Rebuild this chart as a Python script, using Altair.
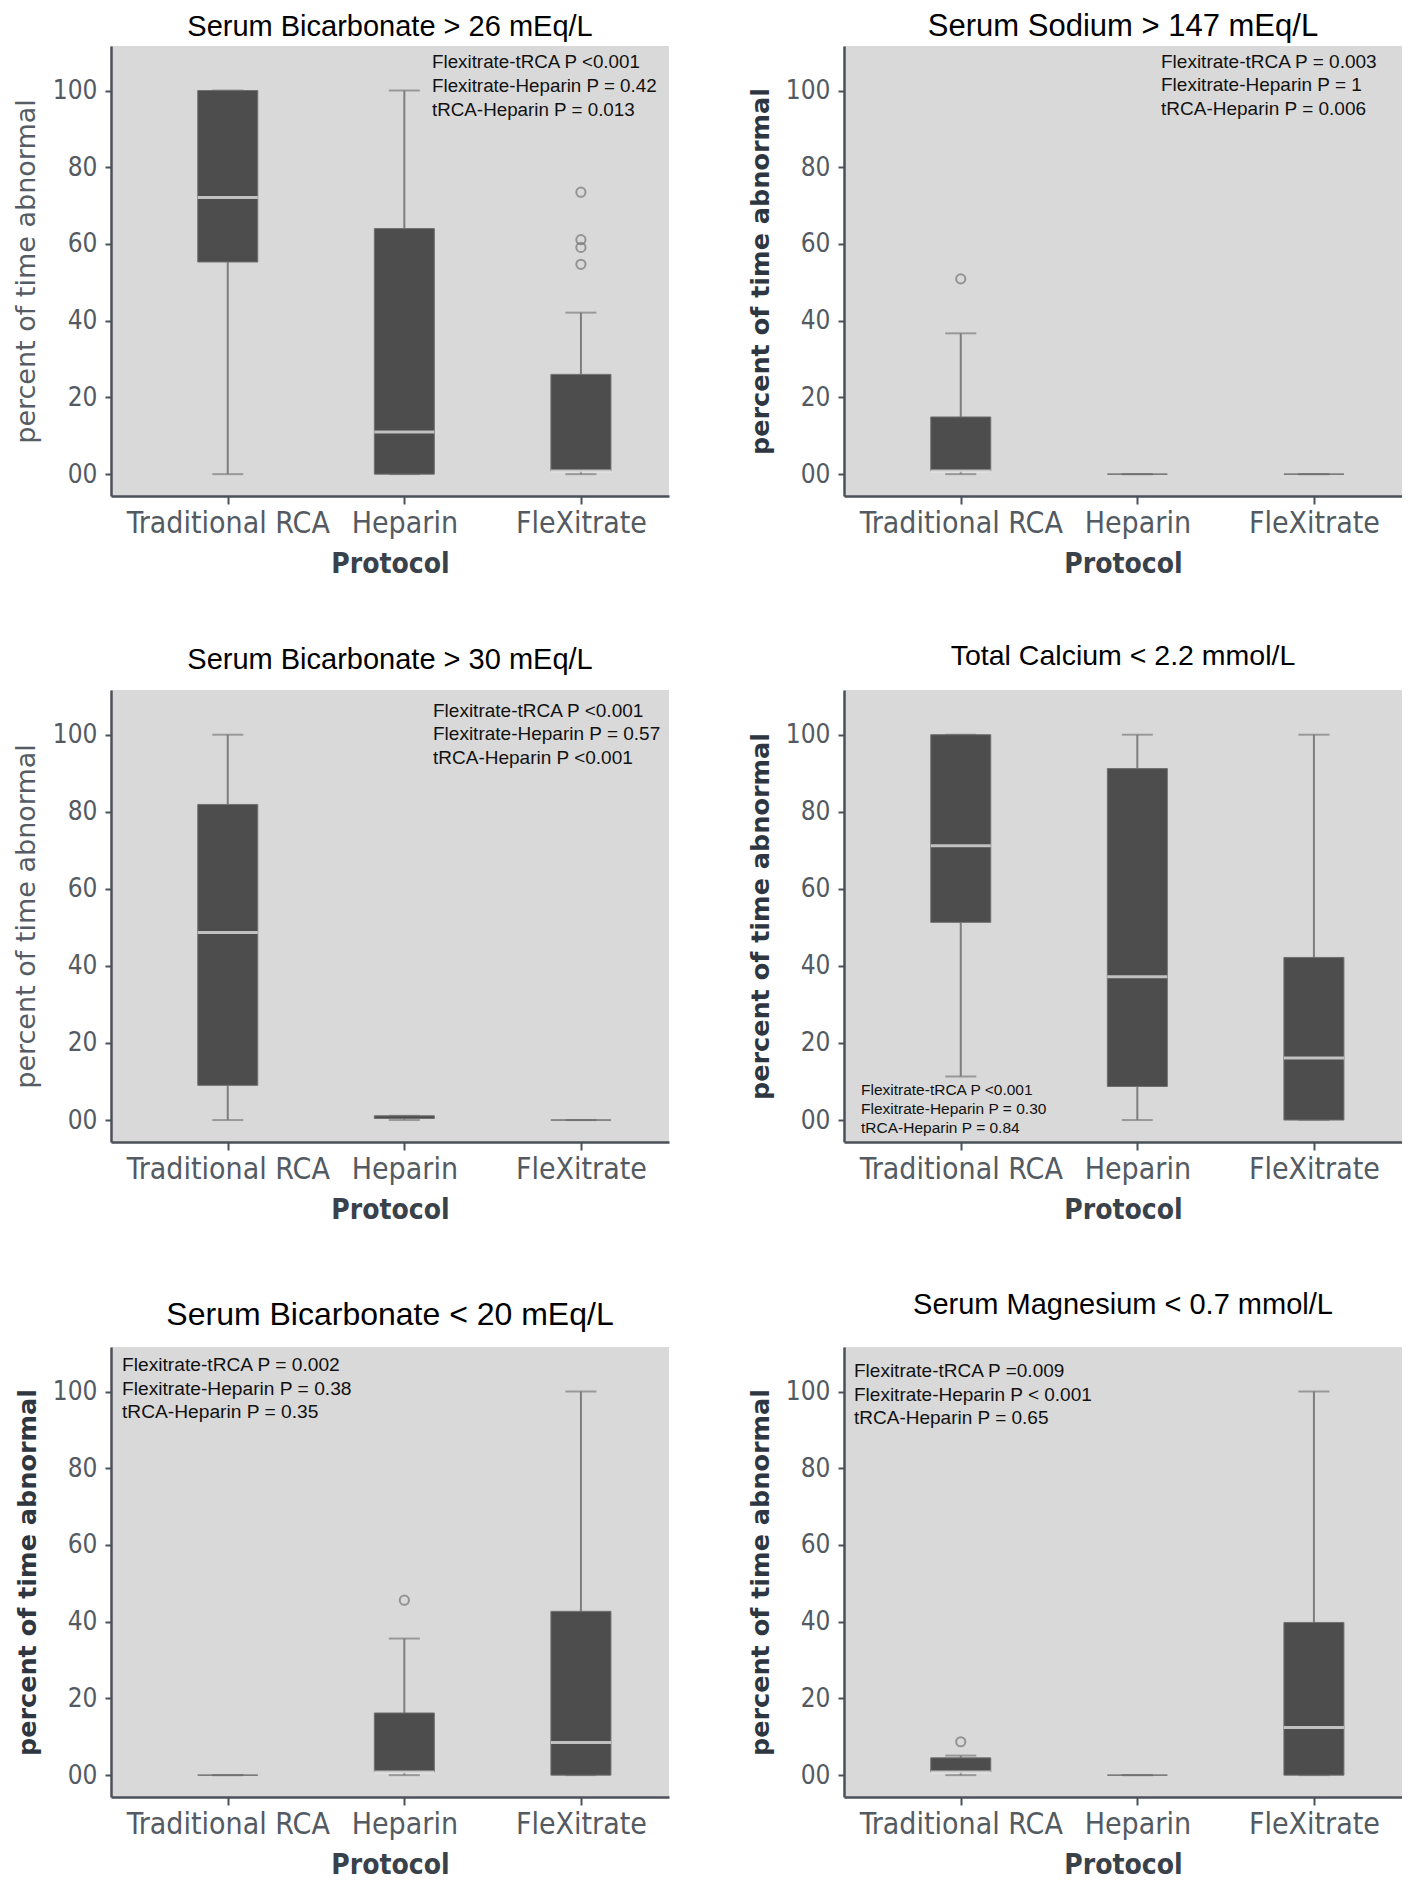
import altair as alt
import pandas as pd

categories = ["Traditional RCA", "Heparin", "FleXitrate"]

titles = [
    "Serum Bicarbonate > 26 mEq/L",
    "Serum Sodium > 147 mEq/L",
    "Serum Bicarbonate > 30 mEq/L",
    "Total Calcium < 2.2 mmol/L",
    "Serum Bicarbonate < 20 mEq/L",
    "Serum Magnesium < 0.7 mmol/L",
]

# box statistics per panel, in order of categories
lower = [[0, 0, 0], [0, 0, 0], [0, 0, 0], [11.3, 0, 0], [0, 0, 0], [0, 0, 0]]
q1 = [[55.3, 0, 0.8], [0.8, 0, 0], [9.0, 0.4, 0], [51.3, 8.7, 0], [0, 0.8, 0], [0.8, 0, 0]]
median = [[72.1, 11.0, 0.8], [0.8, 0, 0], [48.7, 0.7, 0], [71.2, 37.2, 16.1], [0, 0.8, 8.5], [0.8, 0, 12.4]]
q3 = [[100, 64.0, 26.0], [14.9, 0, 0], [81.9, 1.1, 0], [100, 91.2, 42.2], [0, 16.2, 42.7], [4.5, 0, 39.8]]
upper = [[100, 100, 42.1], [36.7, 0, 0], [100, 1.1, 0], [100, 100, 100], [0, 35.6, 100], [5.1, 0, 100]]

# outliers: (panel, category, value)
outlier_panel = [0, 0, 0, 0, 1, 4, 5]
outlier_cat = ["FleXitrate", "FleXitrate", "FleXitrate", "FleXitrate", "Traditional RCA", "Heparin", "Traditional RCA"]
outlier_val = [73.5, 61.1, 59.1, 54.7, 50.9, 45.6, 8.7]

p_texts = [
    ["Flexitrate-tRCA P <0.001", "Flexitrate-Heparin P = 0.42", "tRCA-Heparin P = 0.013"],
    ["Flexitrate-tRCA P = 0.003", "Flexitrate-Heparin P = 1", "tRCA-Heparin P = 0.006"],
    ["Flexitrate-tRCA P <0.001", "Flexitrate-Heparin P = 0.57", "tRCA-Heparin P <0.001"],
    ["Flexitrate-tRCA P <0.001", "Flexitrate-Heparin P = 0.30", "tRCA-Heparin P = 0.84"],
    ["Flexitrate-tRCA P = 0.002", "Flexitrate-Heparin P = 0.38", "tRCA-Heparin P = 0.35"],
    ["Flexitrate-tRCA P =0.009", "Flexitrate-Heparin P < 0.001", "tRCA-Heparin P = 0.65"],
]

y_ticks = [0, 20, 40, 60, 80, 100]

# styling
title_sizes = [29, 31, 29, 28.5, 32, 29]
title_offsets = [4, 3, 15.5, 19.5, 15, 27]
bold_ytitle = [False, True, False, True, True, True]
panel_heights = [450, 450, 452, 452, 450, 450]
PANEL_W = 558
ann_x = [321, 317, 322, 17, 11, 10]
ann_y = [7, 7, 12, 393, 9, 15]
ann_size = [18.8, 19, 19, 15.5, 19.2, 19]
ann_lh = [24, 23.3, 23.3, 19, 23.7, 23.7]

COND = "'DejaVu Sans Condensed', 'Liberation Sans Narrow', 'Roboto Condensed', Roboto, sans-serif"
ARIAL = "'Liberation Sans', Arial, sans-serif"
AXIS_GRAY = "#4b5159"
LABEL_GRAY = "#535a62"


def panel(i):
    df = pd.DataFrame({
        "protocol": categories,
        "lower": lower[i],
        "q1": q1[i],
        "median": median[i],
        "q3": q3[i],
        "upper": upper[i],
    })
    out = pd.DataFrame({
        "protocol": [c for p, c in zip(outlier_panel, outlier_cat) if p == i],
        "value": [v for p, v in zip(outlier_panel, outlier_val) if p == i],
    })
    ytitle_bold = bold_ytitle[i]
    x = alt.X(
        "protocol:N",
        sort=categories,
        scale=alt.Scale(type="point", padding=0.58, align=0.57),
        axis=alt.Axis(
            title="Protocol",
            labelAngle=0,
            labelFont=COND,
            labelFontSize=30,
            labelLimit=400,
            labelColor=LABEL_GRAY,
            labelPadding=4,
            tickSize=8,
            tickWidth=2,
            tickColor=AXIS_GRAY,
            domainColor=AXIS_GRAY,
            domainWidth=2.5,
            titleFont="'DejaVu Sans Condensed', 'DejaVu Sans', sans-serif",
            titleFontSize=28,
            titleFontWeight="bold",
            titleColor="#39414a",
            titlePadding=12,
            grid=False,
        ),
    )
    yscale = alt.Scale(domain=[-5.7, 111.6], nice=False, zero=False)
    yaxis = alt.Axis(
        title="percent of time abnormal",
        values=y_ticks,
        labelExpr="datum.value == 0 ? '00' : datum.label",
        labelFont=COND,
        labelFontSize=26,
        labelColor=LABEL_GRAY,
        labelPadding=8,
        tickSize=6,
        tickWidth=2,
        tickColor=AXIS_GRAY,
        domainColor=AXIS_GRAY,
        domainWidth=2.5,
        titleFont="'DejaVu Sans', sans-serif",
        titleFontSize=25.5 if ytitle_bold else 27,
        titleFontWeight="bold" if ytitle_bold else "normal",
        titleColor="#2e3741" if ytitle_bold else "#555c64",
        titlePadding=12,
        grid=False,
    )
    base = alt.Chart(df)
    whisk_lo = base.mark_rule(color="#7d7d7d", strokeWidth=2).encode(
        x=x, y=alt.Y("lower:Q", scale=yscale, axis=yaxis), y2="q1:Q"
    )
    whisk_hi = base.mark_rule(color="#7d7d7d", strokeWidth=2).encode(
        x=x, y=alt.Y("q3:Q", scale=yscale), y2="upper:Q"
    )
    cap_lo = base.mark_tick(color="#7d7d7d", size=31, thickness=2).encode(
        x=x, y=alt.Y("lower:Q", scale=yscale)
    )
    cap_hi = base.mark_tick(color="#7d7d7d", size=31, thickness=2).encode(
        x=x, y=alt.Y("upper:Q", scale=yscale)
    )
    box = base.mark_bar(size=60, color="#4d4d4d", stroke="#6f6f6f", strokeWidth=1).encode(
        x=x, y=alt.Y("q1:Q", scale=yscale), y2="q3:Q"
    )
    med = base.transform_filter("datum.q3 - datum.q1 > 2").mark_tick(
        color="#f2f2f2", size=60, thickness=3
    ).encode(x=x, y=alt.Y("median:Q", scale=yscale))
    layers = [whisk_lo, whisk_hi, cap_lo, cap_hi, box, med]
    if len(out):
        pts = alt.Chart(out).mark_point(
            shape="circle", filled=False, color="#767676", size=85, strokeWidth=2
        ).encode(x=x, y=alt.Y("value:Q", scale=yscale))
        layers.append(pts)
    ann = alt.Chart(pd.DataFrame({"t": [p_texts[i]]})).mark_text(
        align="left",
        baseline="top",
        font=ARIAL,
        fontSize=ann_size[i],
        lineHeight=ann_lh[i],
        color="#111111",
    ).encode(text="t:N", x=alt.value(ann_x[i]), y=alt.value(ann_y[i]))
    layers.append(ann)
    return alt.layer(*layers).properties(
        width=PANEL_W,
        height=panel_heights[i],
        title=alt.Title(
            titles[i], font=ARIAL, fontSize=title_sizes[i], fontWeight="normal",
            color="#000000", offset=title_offsets[i], anchor="middle", frame="group",
        ),
    )


row1 = alt.hconcat(panel(0), panel(1), spacing=79)
row2 = alt.hconcat(panel(2), panel(3), spacing=79)
row3 = alt.hconcat(panel(4), panel(5), spacing=79)

chart = alt.vconcat(
    row1,
    alt.vconcat(row2, row3, spacing=67),
    spacing=64,
).properties(
    padding={"left": 4, "top": 3, "right": 0, "bottom": 0}, background="white"
).configure_view(fill="#d9d9d9", strokeWidth=0)

chart.save("out.html", embed_options={"renderer": "svg", "actions": False})
